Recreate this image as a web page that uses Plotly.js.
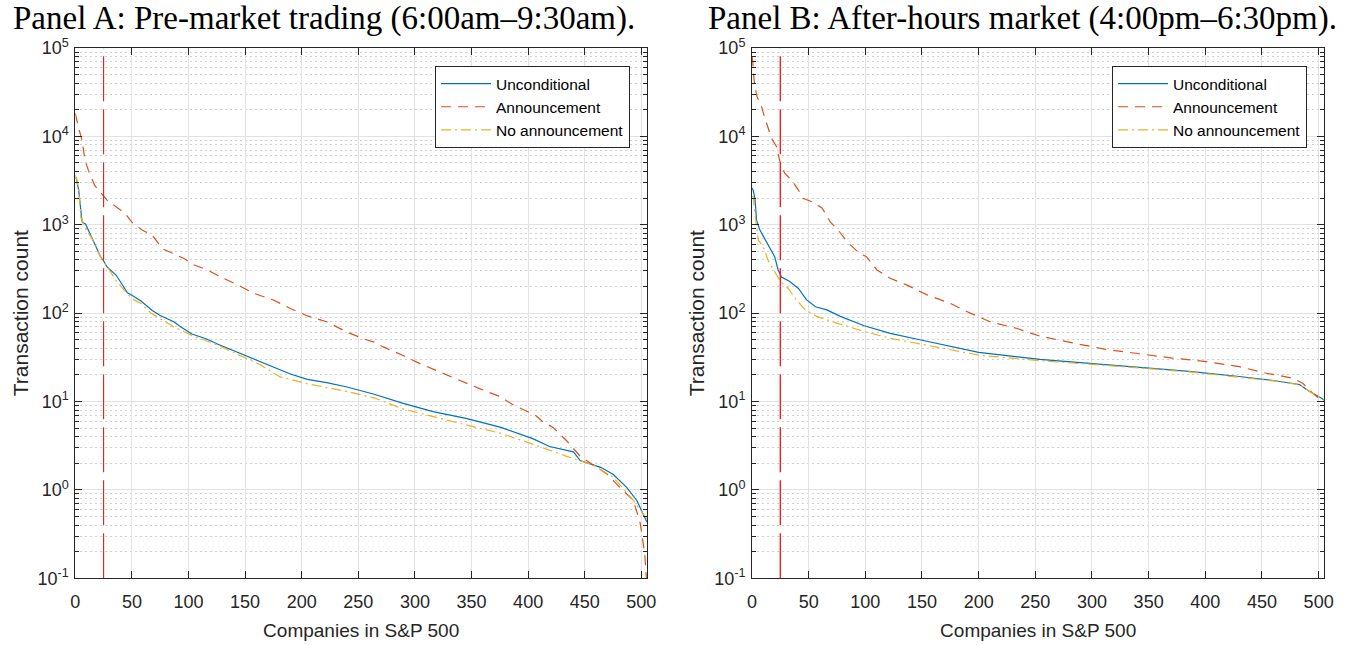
<!DOCTYPE html>
<html>
<head>
<meta charset="utf-8">
<script src="https://cdn.plot.ly/plotly-3.0.1.min.js"></script>
<style>html,body{margin:0;padding:0;background:#fff;}#chart{width:1346px;height:645px;}</style>
</head>
<body>
<div id="chart"></div>
<script>
// ---------------- Data ----------------
const seriesNames = ['Unconditional', 'Announcement', 'No announcement'];
const panelTitles = ['Panel A: Pre-market trading (6:00am\u20139:30am).', 'Panel B: After-hours market (4:00pm\u20136:30pm).'];
const xTitle = 'Companies in S&P 500';
const yTitle = 'Transaction count';
const cutoff = [25, 25];
const yTickVals = [0.1, 1, 10, 100, 1000, 10000, 100000];
const yTickText = ['10<sup>-1</sup>', '10<sup>0</sup>', '10<sup>1</sup>', '10<sup>2</sup>', '10<sup>3</sup>', '10<sup>4</sup>', '10<sup>5</sup>'];

// Panel A
const aUncX = [0, 1, 3, 5, 6, 9, 12, 15, 19, 22, 25, 28, 32, 36, 40, 46, 50, 58, 68, 75, 87, 93, 103, 116, 125, 146, 164, 175, 190, 205, 222, 240, 264, 289, 316, 346, 376, 404, 419, 440, 446, 464, 475, 487, 496, 505];
const aUncY = [3400, 3300, 2450, 1400, 1070, 1020, 850, 700, 540, 440, 390, 333, 300, 270, 225, 170, 159, 137, 107, 94, 80, 70, 58, 51, 45, 35, 28, 24.7, 20.5, 17.8, 16.4, 14.6, 12.1, 9.6, 7.7, 6.4, 5.1, 3.8, 3.1, 2.7, 2.15, 1.8, 1.5, 1.07, 0.76, 0.43];
const aAnnX = [0, 3, 6, 8.5, 11.5, 17, 22, 28, 36, 44, 50, 59, 68, 77, 87, 96, 105, 117, 128, 143, 158, 175, 190, 205, 222, 240, 255, 264, 272, 290, 304, 322, 340, 357, 375, 386, 407, 413, 422, 434, 446, 458, 470, 481, 493, 499, 503, 505];
const aAnnY = [18200, 12300, 9100, 5400, 4150, 2800, 2350, 1900, 1600, 1340, 1070, 870, 760, 535, 470, 415, 350, 308, 258, 210, 167, 141, 113, 93, 80, 61, 51, 47, 41.5, 33, 27, 21.5, 17.4, 14, 11.4, 9.3, 6.9, 5.9, 5.1, 3.6, 2.4, 1.9, 1.5, 1.07, 0.76, 0.42, 0.19, 0.08];
const aNoX = [0, 1, 3, 5, 8, 12, 15, 22, 28, 36, 42, 50, 58, 67, 87, 103, 125, 146, 164, 181, 205, 240, 264, 290, 316, 346, 375, 404, 434, 458, 475, 493, 505];
const aNoY = [3600, 3400, 2500, 1200, 950, 800, 690, 440, 333, 235, 190, 146, 129, 100, 70, 56, 44, 33, 25.8, 19, 15.9, 13, 11, 8.2, 6.7, 5.4, 4.4, 3.3, 2.4, 1.9, 1.4, 0.76, 0.47];

// Panel B
const bUncX = [0, 1, 2.6, 4, 7, 11, 16, 20, 23, 26, 33, 41, 48, 56, 66, 78, 99, 122, 148, 175, 200, 225, 254, 298, 342, 386, 430, 460, 483, 492, 503, 505];
const bUncY = [2600, 2470, 1990, 1130, 870, 700, 520, 435, 310, 256, 230, 190, 142, 118, 109, 92, 72, 59, 50, 42, 36, 33, 30, 27, 24.3, 21.9, 19.2, 17.3, 15.6, 13, 10.8, 10.3];
const bAnnX = [0, 0.6, 1.6, 2.5, 4.5, 8.4, 11.4, 14.4, 17.3, 21.7, 24.7, 29, 35, 41, 45, 53, 62, 69, 76, 85, 95, 101, 110, 122, 136, 154, 175, 189, 210, 234, 254, 283, 312, 342, 371, 401, 430, 454, 477, 486, 494, 503, 505];
const bAnnY = [80000, 73000, 47000, 36500, 28000, 21700, 16000, 12300, 9500, 7650, 5160, 3800, 3200, 2470, 1990, 1820, 1540, 1080, 870, 620, 475, 435, 310, 248, 210, 162, 129, 105, 80, 67, 55, 46, 39, 34.7, 31, 28.3, 24.8, 20.9, 18.4, 16.1, 12.7, 10.2, 10];
const bNoX = [0, 1, 2.6, 5.6, 10, 14, 19, 25, 32, 39, 47, 57, 75, 99, 122, 148, 175, 200, 254, 298, 342, 386, 430, 460, 483, 492, 503, 505];
const bNoY = [2100, 2080, 1340, 670, 565, 400, 310, 230, 190, 142, 109, 92, 77, 62, 52, 45, 38, 33.5, 29, 26.5, 24, 21.6, 19, 17.1, 15.5, 13, 10.8, 10.3];

// ---------------- Styling ----------------
const W = 1346, H = 645;
const colors = ['#0072BD', '#D95319', '#EDB120'];
const dashes = ['solid', '10px,7px', '10px,4px,2px,4px'];
const axisCol = '#262626';
const sans = 'Liberation Sans, Arial, Helvetica, sans-serif';

function mk(x, y, i, xa, ya, leg) {
  return {
    x: x, y: y, type: 'scatter', mode: 'lines', name: seriesNames[i],
    xaxis: xa, yaxis: ya, legend: leg,
    line: {color: colors[i], width: 1.2, dash: dashes[i], shape: 'linear'},
    hoverinfo: 'skip'
  };
}

const traces = [
  mk(aUncX, aUncY, 0, 'x', 'y', 'legend'),
  mk(aAnnX, aAnnY, 1, 'x', 'y', 'legend'),
  mk(aNoX, aNoY, 2, 'x', 'y', 'legend'),
  mk(bUncX, bUncY, 0, 'x2', 'y2', 'legend2'),
  mk(bAnnX, bAnnY, 1, 'x2', 'y2', 'legend2'),
  mk(bNoX, bNoY, 2, 'x2', 'y2', 'legend2')
];

const tickFont = {family: sans, size: 18, color: axisCol};

function xAx(dom, anchor) {
  return {
    domain: dom, anchor: anchor, range: [0, 505], tick0: 0, dtick: 50,
    ticks: 'inside', ticklen: 7, tickwidth: 1, tickcolor: axisCol,
    showline: true, linecolor: axisCol, linewidth: 1, mirror: 'allticks',
    showgrid: true, gridcolor: '#e2e2e2', gridwidth: 1, zeroline: false,
    tickfont: tickFont, ticklabelstandoff: 7,
    title: {text: xTitle, font: {family: sans, size: 19, color: axisCol}, standoff: 12}
  };
}
function yAx(anchor) {
  return {
    domain: [1 - 578.3 / H, 1 - 48 / H], anchor: anchor, type: 'log', range: [-1, 5],
    tickmode: 'array', tickvals: yTickVals, ticktext: yTickText,
    ticks: 'inside', ticklen: 7, tickwidth: 1, tickcolor: axisCol,
    showline: true, linecolor: axisCol, linewidth: 1, mirror: 'allticks',
    showgrid: true, gridcolor: '#e2e2e2', gridwidth: 1, zeroline: false,
    minor: {dtick: 'D1', ticks: 'inside', ticklen: 4, tickcolor: axisCol, showgrid: true, gridcolor: '#d0d0d0', griddash: '1.5px,3.5px', gridwidth: 1},
    tickfont: tickFont, ticklabelstandoff: 2,
    title: {text: yTitle, font: {family: sans, size: 21, color: axisCol}, standoff: 3}
  };
}

function leg(xpx) {
  return {
    x: xpx / W, y: 1 - 66 / H, xanchor: 'left', yanchor: 'top',
    bgcolor: '#ffffff', bordercolor: axisCol, borderwidth: 1,
    font: {family: sans, size: 15.5, color: '#000'},
    itemwidth: 50, tracegroupgap: 0
  };
}

const layout = {
  width: W, height: H, margin: {l: 0, r: 0, t: 0, b: 0},
  paper_bgcolor: '#ffffff', plot_bgcolor: '#ffffff',
  showlegend: true,
  xaxis: xAx([75.3 / W, 647 / W], 'y'),
  yaxis: yAx('x'),
  xaxis2: xAx([752 / W, 1324.3 / W], 'y2'),
  yaxis2: yAx('x2'),
  legend: leg(435),
  legend2: leg(1112),
  shapes: [
    {type: 'line', xref: 'x', yref: 'y domain', x0: cutoff[0], x1: cutoff[0], y0: 0, y1: 1, line: {color: '#d81e1e', width: 1.1, dash: '45px,8px'}},
    {type: 'line', xref: 'x2', yref: 'y2 domain', x0: cutoff[1], x1: cutoff[1], y0: 0, y1: 1, line: {color: '#ff1a1a', width: 1.4, dash: '45px,8px'}}
  ],
  annotations: [
    {text: panelTitles[0], xref: 'paper', yref: 'paper', x: 324 / W, y: 1 - 18 / H, xanchor: 'center', yanchor: 'middle', showarrow: false,
     font: {family: 'Liberation Serif, Times New Roman, serif', size: 33, color: '#000'}},
    {text: panelTitles[1], xref: 'paper', yref: 'paper', x: 1022 / W, y: 1 - 18 / H, xanchor: 'center', yanchor: 'middle', showarrow: false,
     font: {family: 'Liberation Serif, Times New Roman, serif', size: 33, color: '#000'}}
  ]
};

Plotly.newPlot('chart', traces, layout, {staticPlot: true, displayModeBar: false});
</script>
</body>
</html>
